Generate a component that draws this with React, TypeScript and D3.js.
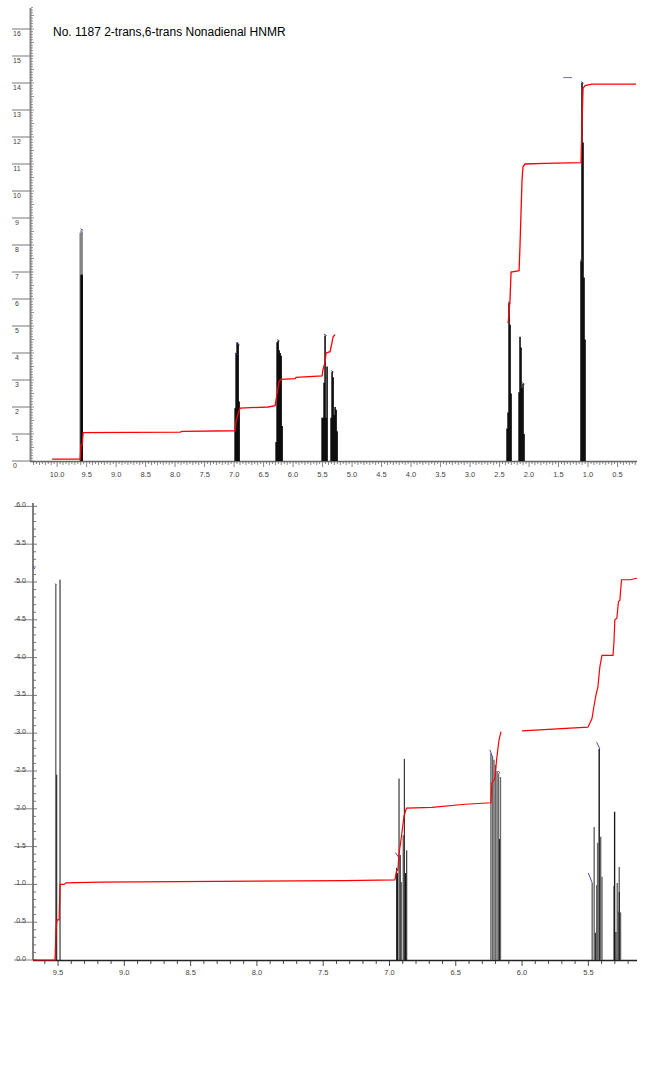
import React from "react";
import * as d3 from "d3";

// ---------- DATA ----------
const title = "No. 1187 2-trans,6-trans Nonadienal HNMR";

// Top (full) spectrum
const topXTicks = [10.0, 9.5, 9.0, 8.5, 8.0, 7.5, 7.0, 6.5, 6.0, 5.5, 5.0, 4.5, 4.0, 3.5, 3.0, 2.5, 2.0, 1.5, 1.0, 0.5];
const topYTicks = [0, 1, 2, 3, 4, 5, 6, 7, 8, 9, 10, 11, 12, 13, 14, 15, 16];

// [ppm, intensity]
const topSticksGray: [number, number][] = [
  [9.610, 8.45], [9.593, 8.55], [9.576, 8.5],
];
const topSticksBlack: [number, number][] = [
  [9.593, 6.9], [9.576, 6.9],
  [6.983, 1.95], [6.966, 4.0], [6.949, 4.4], [6.932, 4.35], [6.915, 2.2],
  [6.288, 0.7], [6.271, 4.4], [6.254, 4.45], [6.237, 4.1], [6.220, 4.0], [6.203, 3.9], [6.186, 1.3],
  [5.508, 1.6], [5.492, 1.6], [5.475, 2.9], [5.458, 4.65], [5.441, 1.6], [5.424, 3.5],
  [5.356, 1.6], [5.339, 3.3], [5.322, 3.1], [5.305, 1.7], [5.288, 2.0], [5.271, 1.9], [5.254, 1.1],
  [2.373, 1.2], [2.356, 1.8], [2.339, 5.85], [2.322, 5.05], [2.305, 2.5],
  [2.169, 2.55], [2.153, 4.6], [2.136, 4.2], [2.119, 2.7], [2.102, 2.85], [2.085, 1.0],
  [1.119, 7.4], [1.102, 14.0], [1.085, 11.8], [1.068, 6.8], [1.051, 4.5],
];
const topBlueTips: [number, number][] = [
  [9.585, 8.6], [6.966, 4.0], [6.932, 4.35], [6.254, 4.5], [5.458, 4.7], [5.339, 3.35],
  [2.339, 5.9], [2.102, 2.9], [1.102, 14.05], [1.119, 7.45],
];
const topIntegral1: [number, number][] = [
  [10.085, 0.07], [9.61, 0.07], [9.593, 0.6], [9.576, 0.6], [9.559, 1.05], [7.915, 1.07], [7.88, 1.1],
  [6.983, 1.12], [6.966, 1.5], [6.932, 1.75], [6.898, 1.96], [6.424, 2.0], [6.305, 2.05], [6.271, 2.5],
  [6.237, 2.95], [6.203, 3.02], [5.966, 3.05], [5.949, 3.1], [5.508, 3.15], [5.492, 3.4], [5.458, 3.65],
  [5.441, 4.0], [5.373, 4.05], [5.339, 4.4], [5.322, 4.6], [5.288, 4.68],
];
const topIntegral2: [number, number][] = [
  [2.356, 5.1], [2.339, 5.5], [2.322, 6.0], [2.305, 7.0], [2.169, 7.05], [2.153, 8.0], [2.136, 9.2],
  [2.119, 10.4], [2.102, 10.9], [2.068, 11.0], [1.729, 11.02], [1.119, 11.05], [1.102, 12.5],
  [1.085, 13.8], [1.051, 13.9], [0.932, 13.96], [0.186, 13.96],
];
const topStrayMark: [number, number][] = [[1.42, 14.2], [1.27, 14.2]];

// Bottom (expanded) spectrum
const botXTicks = [9.5, 9.0, 8.5, 8.0, 7.5, 7.0, 6.5, 6.0, 5.5];
const botYTicks = [0, 0.5, 1.0, 1.5, 2.0, 2.5, 3.0, 3.5, 4.0, 4.5, 5.0, 5.5, 6.0];

const botSticksGray: [number, number][] = [
  [9.517, 4.97],
  [6.910, 1.03], [6.896, 1.65],
  [6.235, 2.73], [6.223, 2.7], [6.212, 2.65], [6.201, 2.58], [6.189, 2.5], [6.178, 2.47], [6.163, 2.42],
  [5.471, 1.02], [5.456, 1.76], [5.437, 0.99], [5.430, 1.55], [5.418, 2.79], [5.407, 1.63], [5.397, 1.1],
  [5.307, 0.98], [5.302, 1.96], [5.282, 1.02], [5.274, 0.64], [5.267, 1.23], [5.257, 0.63],
];
const botSticksBlack: [number, number][] = [
  [9.510, 2.45], [9.485, 5.03],
  [6.946, 1.22], [6.940, 1.15], [6.928, 2.4], [6.919, 1.39], [6.888, 2.66], [6.879, 1.15], [6.870, 1.45],
  [6.171, 1.6],
  [5.447, 0.36], [5.418, 2.79],
  [5.302, 1.96], [5.292, 0.37], [5.267, 0.9],
];
// blue tip marks [ppm1, v1, ppm2, v2]
const botBlueMarks: [number, number, number, number][] = [
  [9.689, 5.2, 9.675, 5.17],
  [9.522, 4.98, 9.512, 4.96],
  [6.955, 1.42, 6.919, 1.33],
  [6.243, 2.78, 6.226, 2.70],
  [6.178, 2.5, 6.168, 2.47],
  [5.500, 1.15, 5.471, 1.02],
  [5.437, 2.88, 5.413, 2.79],
];
const botIntegral1: [number, number][] = [
  [9.689, 0], [9.523, 0], [9.515, 0.4], [9.508, 0.53], [9.492, 0.53], [9.485, 1.0], [9.455, 1.0],
  [9.44, 1.02], [9.183, 1.03], [7.336, 1.05], [6.959, 1.06], [6.948, 1.17], [6.936, 1.2], [6.929, 1.39],
  [6.91, 1.63], [6.891, 1.9], [6.872, 2.01], [6.679, 2.02], [6.431, 2.06], [6.235, 2.08], [6.228, 2.34],
  [6.205, 2.4], [6.192, 2.65], [6.174, 2.91], [6.159, 3.02],
];
const botIntegral2: [number, number][] = [
  [6.001, 3.03], [5.503, 3.08], [5.473, 3.19], [5.458, 3.35], [5.443, 3.5], [5.428, 3.61], [5.413, 3.88],
  [5.397, 4.03], [5.314, 4.03], [5.307, 4.2], [5.3, 4.5], [5.285, 4.52], [5.273, 4.74], [5.262, 4.76],
  [5.25, 5.03], [5.186, 5.03], [5.133, 5.05],
];

// ---------- COMPONENT ----------
const FONT = "'Liberation Sans', Arial, sans-serif";

export default function App() {
  // top scales
  const tx = d3.scaleLinear().domain([10.46, 0.17]).range([30, 637]);
  const ty = d3.scaleLinear().domain([0, 16]).range([461, 29]);
  // bottom scales
  const bx = d3.scaleLinear().domain([9.689, 5.133]).range([33, 637]);
  const by = d3.scaleLinear().domain([0, 6]).range([960, 506.4]);

  const tLine = d3.line<[number, number]>().x((d) => tx(d[0])).y((d) => ty(d[1]));
  const bLine = d3.line<[number, number]>().x((d) => bx(d[0])).y((d) => by(d[1]));

  const topMinorY = d3.range(0, 16.9, 0.1);
  const topMinorX = d3.range(0.2, 10.41, 0.05);
  const botMinorY = d3.range(0, 6.01, 0.1);
  const botMinorX = d3.range(5.2, 9.69, 0.1);

  return (
    <svg width={650} height={1074} style={{ position: "absolute", left: 0, top: 0 }} fontFamily={FONT}>
      <rect width={650} height={1074} fill="#fff" />
      {/* ===== TOP CHART ===== */}
      <text x={53} y={36} fontSize={12} fill="#000">{title}</text>

      {/* y axis */}
      <line x1={30.5} x2={30.5} y1={8} y2={461} stroke="#888" strokeWidth={2} />
      {topMinorY.map((v, i) => (
        <line key={"tmy" + i} x1={31} x2={i % 5 === 0 ? 34 : 33} y1={ty(v)} y2={ty(v)} stroke="#666" strokeWidth={0.7} />
      ))}
      {topYTicks.map((v) => (
        <g key={"ty" + v}>
          <line x1={12} x2={30} y1={ty(v)} y2={ty(v)} stroke="#777" strokeWidth={1} />
          <text x={v === 0 ? 15 : 17} y={ty(v) + 7} fontSize={7} fill="#444" textAnchor="middle">{v}</text>
        </g>
      ))}

      {/* x axis */}
      <line x1={30} x2={637} y1={461.5} y2={461.5} stroke="#666" strokeWidth={1.5} />
      {topMinorX.map((v, i) => {
        const major = Math.abs(v * 2 - Math.round(v * 2)) < 1e-6;
        const mid = Math.abs(v * 10 - Math.round(v * 10)) < 1e-6;
        return (
          <line key={"tmx" + i} x1={tx(v)} x2={tx(v)} y1={462} y2={major ? 467 : mid ? 465 : 464} stroke="#555" strokeWidth={0.7} />
        );
      })}
      {topXTicks.map((v) => (
        <text key={"tx" + v} x={tx(v)} y={477} fontSize={7.5} fill="#444" textAnchor="middle">{v.toFixed(1)}</text>
      ))}

      {/* sticks */}
      {topSticksGray.map((d, i) => (
        <line key={"tsg" + i} x1={tx(d[0])} x2={tx(d[0])} y1={ty(0)} y2={ty(d[1])} stroke="#777" strokeWidth={1.3} />
      ))}
      {topSticksBlack.map((d, i) => (
        <line key={"tsb" + i} x1={tx(d[0])} x2={tx(d[0])} y1={ty(0)} y2={ty(d[1])} stroke="#000" strokeWidth={1.5} />
      ))}
      {topBlueTips.map((d, i) => (
        <line key={"tbt" + i} x1={tx(d[0]) - 1} x2={tx(d[0]) + 1.5} y1={ty(d[1])} y2={ty(d[1]) + 1.5} stroke="#3a3aa0" strokeWidth={1} />
      ))}
      <path d={tLine(topStrayMark) || ""} stroke="#6a6ab0" strokeWidth={1} fill="none" />

      {/* integral */}
      <path d={tLine(topIntegral1) || ""} stroke="#f00" strokeWidth={1.3} fill="none" />
      <path d={tLine(topIntegral2) || ""} stroke="#f00" strokeWidth={1.3} fill="none" />

      {/* ===== BOTTOM CHART ===== */}
      <line x1={33} x2={33} y1={503} y2={960} stroke="#555" strokeWidth={1.5} />
      {botMinorY.map((v, i) => (
        <line key={"bmy" + i} x1={33.5} x2={i % 5 === 0 ? 37 : 36} y1={by(v)} y2={by(v)} stroke="#555" strokeWidth={0.8} />
      ))}
      {botYTicks.map((v) => (
        <g key={"by" + v}>
          <line x1={14} x2={33} y1={by(v)} y2={by(v)} stroke="#666" strokeWidth={0.8} />
          <text x={21} y={by(v) + 1} fontSize={7} fill="#444" textAnchor="middle">{v.toFixed(1)}</text>
        </g>
      ))}

      <line x1={33} x2={637} y1={960.5} y2={960.5} stroke="#222" strokeWidth={1.6} />
      {botMinorX.map((v, i) => {
        const major = Math.abs(v * 2 - Math.round(v * 2)) < 1e-6;
        return (
          <line key={"bmx" + i} x1={bx(v)} x2={bx(v)} y1={961} y2={major ? 966 : 964} stroke="#333" strokeWidth={0.9} />
        );
      })}
      {botXTicks.map((v) => (
        <text key={"bx" + v} x={bx(v)} y={975} fontSize={7.5} fill="#444" textAnchor="middle">{v.toFixed(1)}</text>
      ))}

      {botSticksGray.map((d, i) => (
        <line key={"bsg" + i} x1={bx(d[0])} x2={bx(d[0])} y1={by(0)} y2={by(d[1])} stroke="#666" strokeWidth={1.4} />
      ))}
      {botSticksBlack.map((d, i) => (
        <line key={"bsb" + i} x1={bx(d[0])} x2={bx(d[0])} y1={by(0)} y2={by(d[1])} stroke="#111" strokeWidth={1} />
      ))}
      {botBlueMarks.map((d, i) => (
        <line key={"bbm" + i} x1={bx(d[0])} x2={bx(d[2])} y1={by(d[1])} y2={by(d[3])} stroke="#4a4ab0" strokeWidth={1} />
      ))}

      <path d={bLine(botIntegral1) || ""} stroke="#f00" strokeWidth={1.2} fill="none" />
      <path d={bLine(botIntegral2) || ""} stroke="#f00" strokeWidth={1.2} fill="none" />
    </svg>
  );
}
